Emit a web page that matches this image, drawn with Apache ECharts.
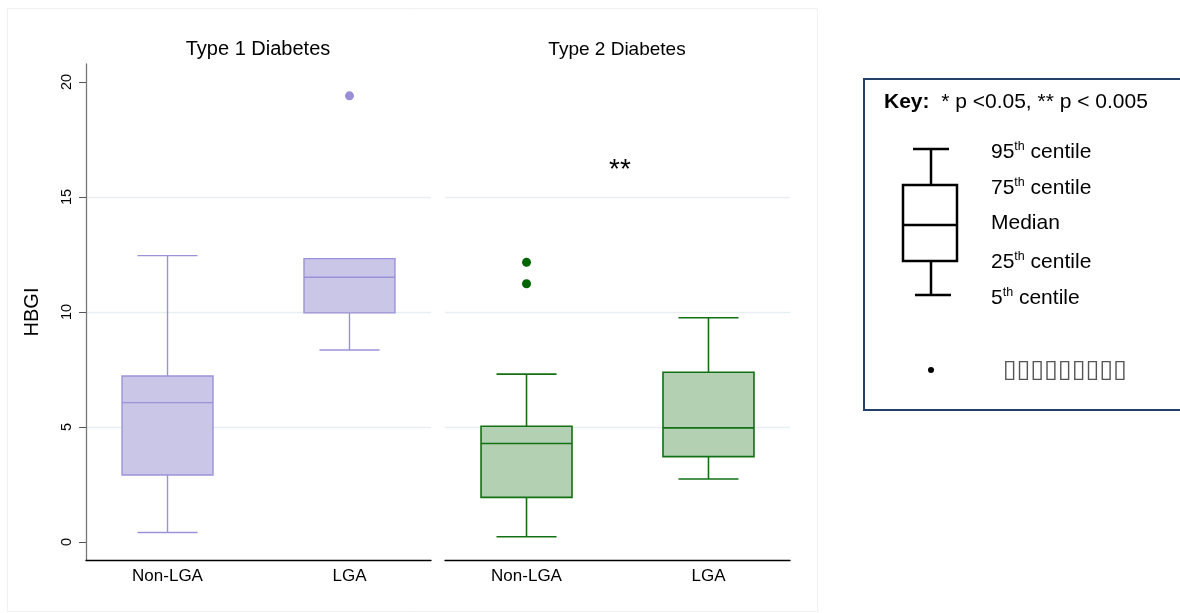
<!DOCTYPE html>
<html>
<head>
<meta charset="utf-8">
<script src="https://cdn.jsdelivr.net/npm/echarts@6/dist/echarts.min.js"></script>
<style>
html,body{margin:0;padding:0;background:#fff;}
#main{width:1180px;height:613px;}
</style>
</head>
<body>
<div id="main"></div>
<script>
// ---- data ----
const categories = ['Non-LGA', 'LGA'];
const panelTitles = ['Type 1 Diabetes', 'Type 2 Diabetes'];
const yTicks = [0, 5, 10, 15, 20];
// [5th, 25th, median, 75th, 95th]
const t1Boxes = [
  [0.41, 2.91, 6.06, 7.22, 12.45],
  [8.35, 9.96, 11.51, 12.32, 12.32]
];
const t2Boxes = [
  [0.23, 1.94, 4.28, 5.03, 7.30],
  [2.74, 3.71, 4.96, 7.38, 9.75]
];
// [category index, value]
const t1Outliers = [[1, 19.40]];
const t2Outliers = [[0, 12.16], [0, 11.23]];
const significance = ['', '**'];
const keyLegend = ['95', '75', 'Median', '25', '5'];

// ---- chart ----
const FONT = '"Liberation Sans", Arial, sans-serif';
const chart = echarts.init(document.getElementById('main'));

const Y_MIN = -0.783, Y_MAX = 20.783;
const X_MIN = -0.448, X_MAX = 1.448;

function makeRender(fill, stroke, lw) {
  return function (params, api) {
    const x = api.value(0);
    const lo = api.coord([x, api.value(1)]);
    const q1 = api.coord([x, api.value(2)]);
    const md = api.coord([x, api.value(3)]);
    const q3 = api.coord([x, api.value(4)]);
    const hi = api.coord([x, api.value(5)]);
    const unit = api.size([1, 0])[0];
    const bw = unit * 0.5;
    const cw = unit * 0.33;
    const cx = lo[0];
    const ls = { stroke: stroke, lineWidth: lw, fill: null };
    return {
      type: 'group',
      children: [
        { type: 'line', shape: { x1: cx, y1: q3[1], x2: cx, y2: hi[1] }, style: ls },
        { type: 'line', shape: { x1: cx, y1: q1[1], x2: cx, y2: lo[1] }, style: ls },
        { type: 'line', shape: { x1: cx - cw / 2, y1: hi[1], x2: cx + cw / 2, y2: hi[1] }, style: ls },
        { type: 'line', shape: { x1: cx - cw / 2, y1: lo[1], x2: cx + cw / 2, y2: lo[1] }, style: ls },
        { type: 'rect', shape: { x: cx - bw / 2, y: q3[1], width: bw, height: q1[1] - q3[1] },
          style: { fill: fill, stroke: stroke, lineWidth: lw } },
        { type: 'line', shape: { x1: cx - bw / 2, y1: md[1], x2: cx + bw / 2, y2: md[1] }, style: ls }
      ]
    };
  };
}

function xAxis(idx) {
  return {
    type: 'value', gridIndex: idx, min: X_MIN, max: X_MAX,
    axisLine: { show: true, onZero: false, lineStyle: { color: '#000', width: 1.3 } },
    axisTick: { show: false },
    splitLine: { show: false },
    axisLabel: {
      customValues: [0, 1],
      formatter: v => categories[Math.round(v)] || '',
      color: '#000', fontSize: 17, fontFamily: FONT, margin: 8
    }
  };
}
function yAxis(idx) {
  const left = idx === 0;
  return {
    type: 'value', gridIndex: idx, min: Y_MIN, max: Y_MAX,
    name: left ? 'HBGI' : '',
    nameLocation: 'middle', nameGap: 44, nameRotate: 90,
    nameTextStyle: { color: '#000', fontSize: 20, fontFamily: FONT },
    axisLine: { show: left, onZero: false, lineStyle: { color: '#777', width: 1.3 } },
    axisTick: { show: left, customValues: yTicks, length: 7, lineStyle: { color: '#555' } },
    axisLabel: {
      show: left, customValues: yTicks, rotate: 90,
      color: '#000', fontSize: 14.5, fontFamily: FONT, margin: 12
    },
    splitLine: { show: true, showMinLine: false, showMaxLine: false, lineStyle: { color: '#e8eff1', width: 1.3 } }
  };
}

const keyX = 864, keyY = 79;
const keyRows = [152, 188, 225, 262, 298];
const keyTexts = keyRows.map((y, i) => {
  const lab = keyLegend[i];
  const txt = lab === 'Median' ? '{b|Median}' : '{b|' + lab + '}{s|th}{b| centile}';
  return {
    type: 'text', left: 991, top: y - 12,
    style: {
      text: txt,
      rich: {
        b: { fontSize: 21, fontFamily: FONT, fill: '#000', lineHeight: 24 },
        s: { fontSize: 12.5, fontFamily: FONT, fill: '#000', lineHeight: 12, verticalAlign: 'top' }
      }
    }
  };
});

const option = {
  animation: false,
  backgroundColor: '#fff',
  grid: [
    { left: 86, top: 64, width: 345, height: 496 },
    { left: 445, top: 64, width: 345, height: 496 }
  ],
  xAxis: [xAxis(0), xAxis(1)],
  yAxis: [yAxis(0), yAxis(1)],
  graphic: [
    { type: 'rect', shape: { x: 7.5, y: 8.5, width: 810, height: 603 },
      style: { fill: null, stroke: '#f0f2f2', lineWidth: 1 }, silent: true, z: -10 },
    { type: 'text', x: 258, y: 49, style: { text: panelTitles[0], font: '20px ' + FONT, fill: '#000', textAlign: 'center', textVerticalAlign: 'middle' } },
    { type: 'text', x: 617, y: 50, style: { text: panelTitles[1], font: '19px ' + FONT, fill: '#000', textAlign: 'center', textVerticalAlign: 'middle' } },
    { type: 'text', x: 620, y: 170, style: { text: significance[1], font: '28px ' + FONT, fill: '#000', textAlign: 'center', textVerticalAlign: 'middle' } },
    // key box
    { type: 'rect', shape: { x: keyX, y: keyY, width: 330, height: 331 },
      style: { fill: '#fff', stroke: '#23406b', lineWidth: 2 } },
    { type: 'text', left: 884, top: 92, style: {
        text: '{k|Key:}{n|  * p <0.05, ** p < 0.005}',
        rich: { k: { fontSize: 21, fontWeight: 'bold', fontFamily: FONT, fill: '#000' },
                n: { fontSize: 21, fontFamily: FONT, fill: '#000' } } } },
    { type: 'line', shape: { x1: 913, y1: 149, x2: 949, y2: 149 }, style: { stroke: '#000', lineWidth: 2.5 } },
    { type: 'line', shape: { x1: 931, y1: 149, x2: 931, y2: 185 }, style: { stroke: '#000', lineWidth: 2.5 } },
    { type: 'rect', shape: { x: 903, y: 185, width: 54, height: 76 }, style: { fill: '#fff', stroke: '#000', lineWidth: 2.5 } },
    { type: 'line', shape: { x1: 903, y1: 225, x2: 957, y2: 225 }, style: { stroke: '#000', lineWidth: 2.5 } },
    { type: 'line', shape: { x1: 931, y1: 261, x2: 931, y2: 295 }, style: { stroke: '#000', lineWidth: 2.5 } },
    { type: 'line', shape: { x1: 915, y1: 295, x2: 951, y2: 295 }, style: { stroke: '#000', lineWidth: 2.5 } },
    { type: 'circle', shape: { cx: 931, cy: 370, r: 3 }, style: { fill: '#000' } },
    { type: 'text', x: 1065, y: 370, style: { text: '▯▯▯▯▯▯▯▯▯', font: '25px "DejaVu Sans", sans-serif', fill: '#555', textAlign: 'center', textVerticalAlign: 'middle' } }
  ].concat(keyTexts),
  series: [
    { type: 'custom', xAxisIndex: 0, yAxisIndex: 0,
      renderItem: makeRender('#c9c6e8', '#9a92d8', 1.4),
      encode: { x: 0, y: [1, 2, 3, 4, 5] },
      data: t1Boxes.map((b, i) => [i].concat(b)) },
    { type: 'custom', xAxisIndex: 1, yAxisIndex: 1,
      renderItem: makeRender('#b3d0b3', '#137013', 1.6),
      encode: { x: 0, y: [1, 2, 3, 4, 5] },
      data: t2Boxes.map((b, i) => [i].concat(b)) },
    { type: 'scatter', xAxisIndex: 0, yAxisIndex: 0, symbolSize: 9,
      itemStyle: { color: '#968ed6', opacity: 1 }, data: t1Outliers },
    { type: 'scatter', xAxisIndex: 1, yAxisIndex: 1, symbolSize: 9,
      itemStyle: { color: '#006400', opacity: 1 }, data: t2Outliers }
  ]
};
chart.setOption(option);
</script>
</body>
</html>
